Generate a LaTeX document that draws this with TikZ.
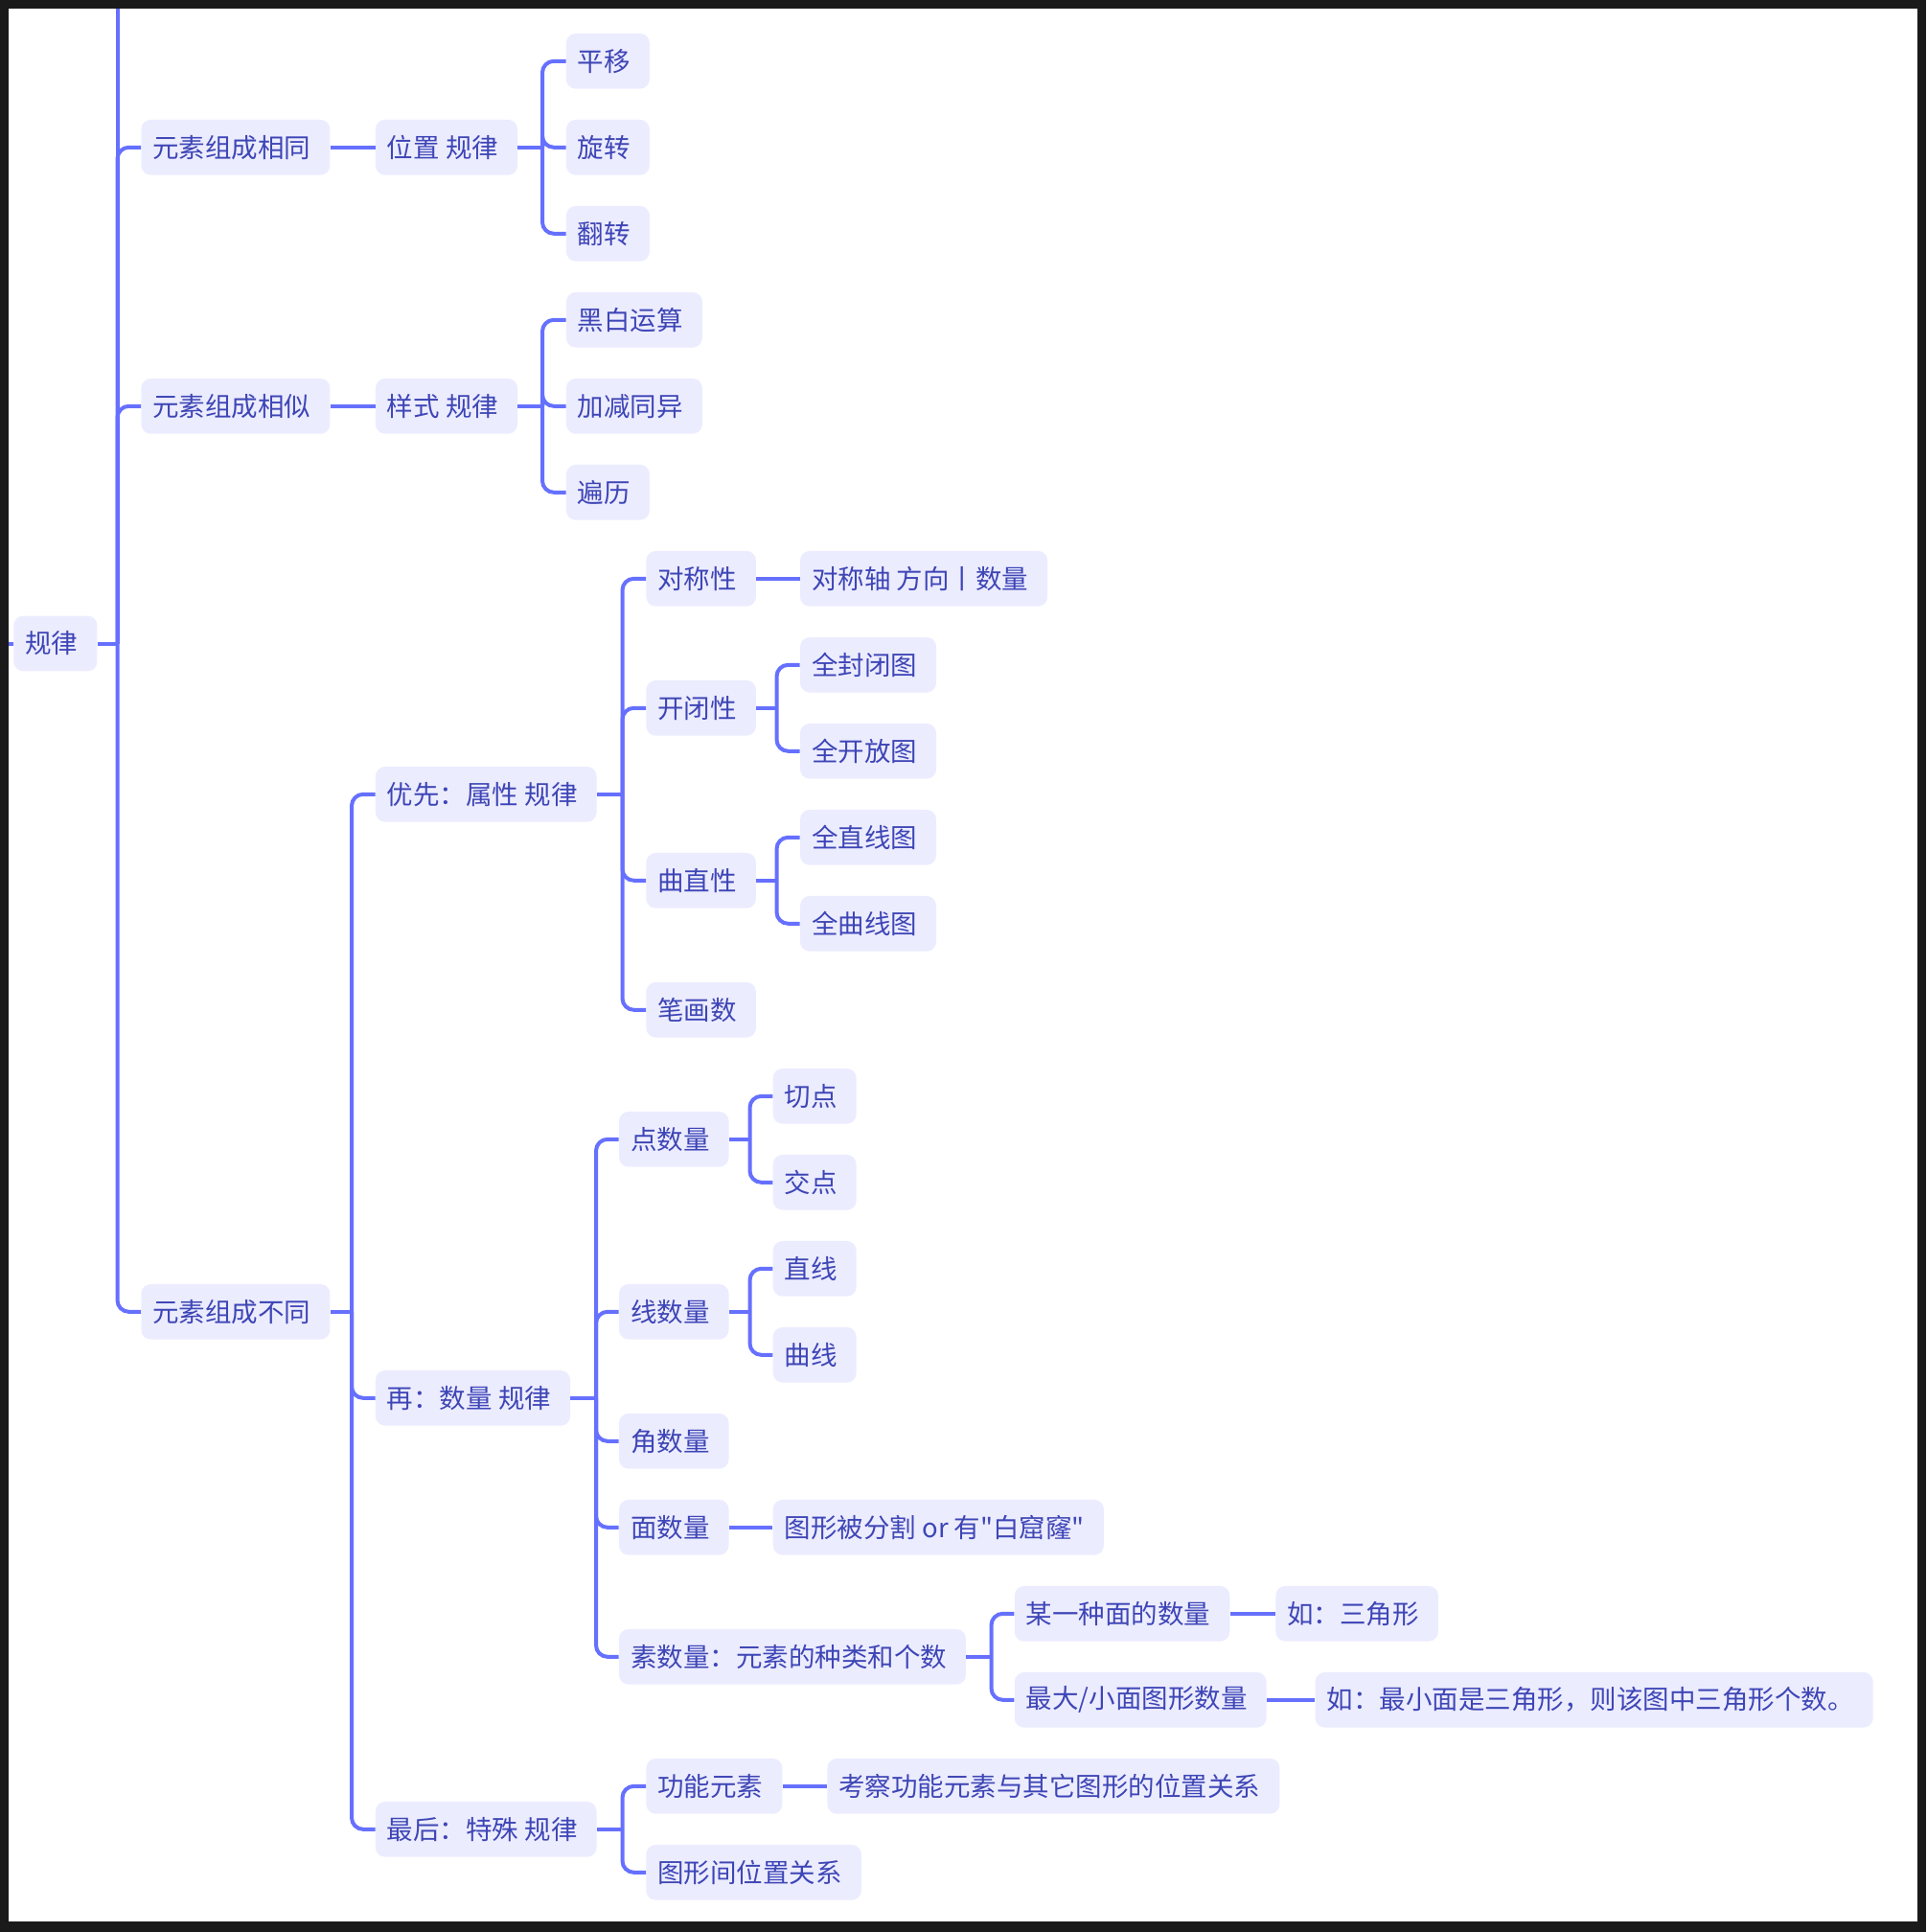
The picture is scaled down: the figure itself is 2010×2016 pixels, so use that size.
\documentclass[tikz,border=0pt]{standalone}
\usepackage{fontspec}
\newfontfamily\cjk{Noto Sans CJK SC}
\usepackage{tikz}

\begin{document}
\begin{tikzpicture}[x=0.5pt,y=-0.5pt]
    \definecolor{mybg}{RGB}{26,26,26}
    \definecolor{myline}{RGB}{102,112,255}
    \definecolor{myfill}{RGB}{236,236,255}
    \definecolor{mytext}{RGB}{62,70,182}

    \tikzstyle{format}=[rectangle,rounded corners=5pt,fill=myfill,text=mytext,anchor=west,
        minimum height=28.85pt,inner xsep=6pt,inner ysep=0pt,
        execute at end node=\hspace{4pt},
        font=\cjk\fontsize{13.75pt}{16pt}\selectfont]  % 节点的颜色,形状
    \tikzstyle{line}=[myline,line width=2pt]  % 连线
    \tikzstyle{branch}=[myline,line width=2pt,rounded corners=6pt]  % 带圆角的分支线

    % 边框
    \fill[mybg](0,0)rectangle(2010,2016);
    \fill[white](9,9)rectangle(2001,2005);
    \useasboundingbox(0,0)rectangle(2010,2016);

    % 定义节点
    \node[format](root) at (14,671.5){规律};
    \node[format](a1) at (147,153.8){元素组成相同};
    \node[format](a2) at (147,423.8){元素组成相似};
    \node[format](a3) at (147,1368.8){元素组成不同};

    \node[format](b1) at (391.5,153.8){位置 规律};
    \node[format](b2) at (391.5,423.8){样式 规律};
    \node[format](b3) at (391.5,828.8){优先：属性 规律};
    \node[format](b4) at (391.5,1458.8){再：数量 规律};
    \node[format](b5) at (391.5,1908.8){最后：特殊 规律};

    \node[format](c11) at (590.5,63.8){平移};
    \node[format](c12) at (590.5,153.8){旋转};
    \node[format](c13) at (590.5,243.8){翻转};
    \node[format](c21) at (590.5,333.8){黑白运算};
    \node[format](c22) at (590.5,423.8){加减同异};
    \node[format](c23) at (590.5,513.8){遍历};

    \node[format](c31) at (674,603.8){对称性};
    \node[format](c32) at (674,738.8){开闭性};
    \node[format](c33) at (674,918.8){曲直性};
    \node[format](c34) at (674,1053.8){笔画数};
    \node[format](d31) at (834.6,603.8){对称轴 方向丨数量};
    \node[format](d32) at (834.6,693.8){全封闭图};
    \node[format](d33) at (834.6,783.8){全开放图};
    \node[format](d34) at (834.6,873.8){全直线图};
    \node[format](d35) at (834.6,963.8){全曲线图};

    \node[format](c41) at (645.6,1188.8){点数量};
    \node[format](c42) at (645.6,1368.8){线数量};
    \node[format](c43) at (645.6,1503.8){角数量};
    \node[format](c44) at (645.6,1593.8){面数量};
    \node[format](c45) at (645.6,1728.8){素数量：元素的种类和个数};
    \node[format](d41) at (806.3,1143.8){切点};
    \node[format](d42) at (806.3,1233.8){交点};
    \node[format](d43) at (806.3,1323.8){直线};
    \node[format](d44) at (806.3,1413.8){曲线};
    \node[format](d45) at (806.3,1593.8){图形被分割 or 有"白窟窿"};
    \node[format](d46) at (1058.4,1683.8){某一种面的数量};
    \node[format](d47) at (1058.4,1773.8){最大/小面图形数量};
    \node[format](e1) at (1331,1683.8){如：三角形};
    \node[format](e2) at (1372.2,1773.8){如：最小面是三角形，则该图中三角形个数。};

    \node[format](c51) at (674,1863.8){功能元素};
    \node[format](c52) at (674,1953.8){图形间位置关系};
    \node[format](d51) at (863,1863.8){考察功能元素与其它图形的位置关系};

    % 分支点
    \coordinate(left) at (9,671.5);
    \coordinate(top) at (122.5,9);
    \coordinate(j0) at (122.5,671.5);
    \coordinate(j1) at (566,153.8);
    \coordinate(j2) at (566,423.8);
    \coordinate(j3) at (367,1368.8);
    \coordinate(j4) at (649.5,828.8);
    \coordinate(j5) at (810.5,738.8);
    \coordinate(j6) at (810.5,918.8);
    \coordinate(j7) at (622,1458.8);
    \coordinate(j8) at (782.5,1188.8);
    \coordinate(j9) at (782.5,1368.8);
    \coordinate(j10) at (1034.5,1728.8);
    \coordinate(j11) at (649.5,1908.8);

    % 开始画线
    \draw[line](left)--(root);
    \draw[line](root)--(j0);
    \draw[line](j0)--(top);
    \foreach \n in {a1,a2,a3} \draw[branch](j0)|-(\n);

    \draw[line](a1)--(b1);
    \draw[line](b1)--(j1);
    \foreach \n in {c11,c12,c13} \draw[branch](j1)|-(\n);

    \draw[line](a2)--(b2);
    \draw[line](b2)--(j2);
    \foreach \n in {c21,c22,c23} \draw[branch](j2)|-(\n);

    \draw[line](a3)--(j3);
    \foreach \n in {b3,b4,b5} \draw[branch](j3)|-(\n);

    \draw[line](b3)--(j4);
    \foreach \n in {c31,c32,c33,c34} \draw[branch](j4)|-(\n);
    \draw[line](c31)--(d31);
    \draw[line](c32)--(j5);
    \foreach \n in {d32,d33} \draw[branch](j5)|-(\n);
    \draw[line](c33)--(j6);
    \foreach \n in {d34,d35} \draw[branch](j6)|-(\n);

    \draw[line](b4)--(j7);
    \foreach \n in {c41,c42,c43,c44,c45} \draw[branch](j7)|-(\n);
    \draw[line](c41)--(j8);
    \foreach \n in {d41,d42} \draw[branch](j8)|-(\n);
    \draw[line](c42)--(j9);
    \foreach \n in {d43,d44} \draw[branch](j9)|-(\n);
    \draw[line](c44)--(d45);
    \draw[line](c45)--(j10);
    \foreach \n in {d46,d47} \draw[branch](j10)|-(\n);
    \draw[line](d46)--(e1);
    \draw[line](d47)--(e2);

    \draw[line](b5)--(j11);
    \foreach \n in {c51,c52} \draw[branch](j11)|-(\n);
    \draw[line](c51)--(d51);
\end{tikzpicture}
\end{document}
